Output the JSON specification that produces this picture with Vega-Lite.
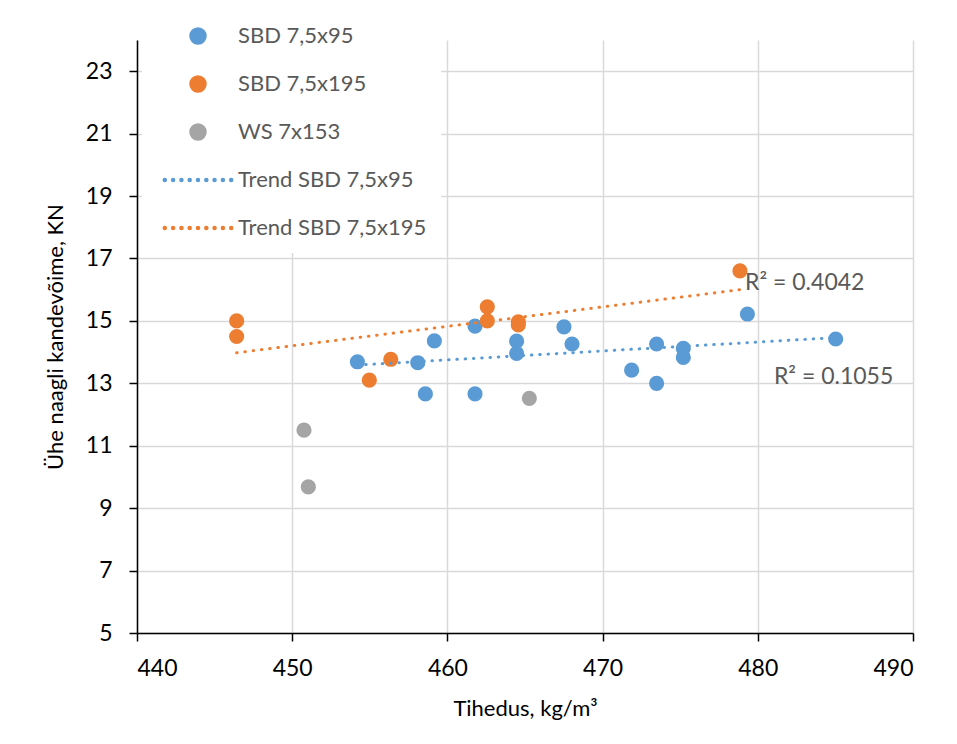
{
  "$schema": "https://vega.github.io/schema/vega-lite/v6.json",
  "width": 776,
  "height": 593,
  "autosize": {"type": "none"},
  "padding": {"left": 137, "top": 40, "right": 44, "bottom": 111},
  "background": "white",
  "config": {
    "view": {"stroke": null},
    "font": "Lato",
    "axis": {
      "labelFont": "Lato",
      "labelFontSize": 23,
      "labelColor": "#000000",
      "titleFont": "Lato",
      "titleFontSize": 22,
      "titleFontWeight": "normal",
      "titleColor": "#000000",
      "domainColor": "#000000",
      "domainWidth": 1.5,
      "tickColor": "#000000",
      "tickWidth": 1.5,
      "tickSize": 8,
      "gridColor": "#d9d9d9",
      "gridWidth": 1.5
    },
    "legend": {
      "labelFont": "Lato",
      "labelFontSize": 22,
      "labelColor": "#595959",
      "labelLimit": 400
    }
  },
  "data": {
    "values": [
      {"tihedus": 454.2, "kandevoime": 13.69, "series": "SBD 7,5x95", "trend": "Trend SBD 7,5x95"},
      {"tihedus": 458.09, "kandevoime": 13.66, "series": "SBD 7,5x95", "trend": "Trend SBD 7,5x95"},
      {"tihedus": 458.58, "kandevoime": 12.66, "series": "SBD 7,5x95", "trend": "Trend SBD 7,5x95"},
      {"tihedus": 459.16, "kandevoime": 14.36, "series": "SBD 7,5x95", "trend": "Trend SBD 7,5x95"},
      {"tihedus": 461.78, "kandevoime": 14.83, "series": "SBD 7,5x95", "trend": "Trend SBD 7,5x95"},
      {"tihedus": 461.78, "kandevoime": 12.66, "series": "SBD 7,5x95", "trend": "Trend SBD 7,5x95"},
      {"tihedus": 464.46, "kandevoime": 14.35, "series": "SBD 7,5x95", "trend": "Trend SBD 7,5x95"},
      {"tihedus": 464.46, "kandevoime": 13.96, "series": "SBD 7,5x95", "trend": "Trend SBD 7,5x95"},
      {"tihedus": 467.51, "kandevoime": 14.81, "series": "SBD 7,5x95", "trend": "Trend SBD 7,5x95"},
      {"tihedus": 468.03, "kandevoime": 14.26, "series": "SBD 7,5x95", "trend": "Trend SBD 7,5x95"},
      {"tihedus": 471.87, "kandevoime": 13.42, "series": "SBD 7,5x95", "trend": "Trend SBD 7,5x95"},
      {"tihedus": 473.48, "kandevoime": 14.26, "series": "SBD 7,5x95", "trend": "Trend SBD 7,5x95"},
      {"tihedus": 473.48, "kandevoime": 13.0, "series": "SBD 7,5x95", "trend": "Trend SBD 7,5x95"},
      {"tihedus": 475.2, "kandevoime": 14.12, "series": "SBD 7,5x95", "trend": "Trend SBD 7,5x95"},
      {"tihedus": 475.2, "kandevoime": 13.83, "series": "SBD 7,5x95", "trend": "Trend SBD 7,5x95"},
      {"tihedus": 479.33, "kandevoime": 15.22, "series": "SBD 7,5x95", "trend": "Trend SBD 7,5x95"},
      {"tihedus": 485.02, "kandevoime": 14.42, "series": "SBD 7,5x95", "trend": "Trend SBD 7,5x95"},
      {"tihedus": 446.42, "kandevoime": 15.0, "series": "SBD 7,5x195", "trend": "Trend SBD 7,5x195"},
      {"tihedus": 446.42, "kandevoime": 14.5, "series": "SBD 7,5x195", "trend": "Trend SBD 7,5x195"},
      {"tihedus": 454.97, "kandevoime": 13.1, "series": "SBD 7,5x195", "trend": "Trend SBD 7,5x195"},
      {"tihedus": 456.35, "kandevoime": 13.77, "series": "SBD 7,5x195", "trend": "Trend SBD 7,5x195"},
      {"tihedus": 462.57, "kandevoime": 15.45, "series": "SBD 7,5x195", "trend": "Trend SBD 7,5x195"},
      {"tihedus": 462.57, "kandevoime": 15.0, "series": "SBD 7,5x195", "trend": "Trend SBD 7,5x195"},
      {"tihedus": 464.57, "kandevoime": 14.97, "series": "SBD 7,5x195", "trend": "Trend SBD 7,5x195"},
      {"tihedus": 464.57, "kandevoime": 14.87, "series": "SBD 7,5x195", "trend": "Trend SBD 7,5x195"},
      {"tihedus": 478.85, "kandevoime": 16.6, "series": "SBD 7,5x195", "trend": "Trend SBD 7,5x195"},
      {"tihedus": 450.76, "kandevoime": 11.5, "series": "WS 7x153", "trend": null},
      {"tihedus": 451.04, "kandevoime": 9.68, "series": "WS 7x153", "trend": null},
      {"tihedus": 465.28, "kandevoime": 12.52, "series": "WS 7x153", "trend": null}
    ]
  },
  "encoding": {
    "x": {
      "field": "tihedus",
      "type": "quantitative",
      "title": "Tihedus, kg/m³",
      "scale": {"domain": [440, 490], "nice": false, "zero": false},
      "axis": {"values": [440, 450, 460, 470, 480, 490], "labelPadding": 16, "titlePadding": 18}
    },
    "y": {
      "field": "kandevoime",
      "type": "quantitative",
      "title": "Ühe naagli kandevõime, KN",
      "scale": {"domain": [5, 24], "nice": false, "zero": false},
      "axis": {"values": [5, 7, 9, 11, 13, 15, 17, 19, 21, 23], "labelPadding": 17, "titlePadding": 18}
    }
  },
  "layer": [
    {
      "mark": {"type": "point", "filled": true, "size": 230, "opacity": 1},
      "encoding": {
        "color": {
          "field": "series",
          "type": "nominal",
          "scale": {
            "domain": ["SBD 7,5x95", "SBD 7,5x195", "WS 7x153", "Trend SBD 7,5x95", "Trend SBD 7,5x195"],
            "range": ["#5B9BD5", "#ED7D31", "#A5A5A5", "#5B9BD5", "#ED7D31"]
          },
          "legend": {
            "title": null,
            "orient": "none",
            "legendX": 5,
            "legendY": -29,
            "padding": 14,
            "fillColor": "white",
            "symbolSize": 256,
            "symbolOffset": 31,
            "labelOffset": 29,
            "labelBaseline": "middle",
            "rowPadding": 26
          }
        },
        "shape": {
          "field": "series",
          "type": "nominal",
          "scale": {
            "domain": ["SBD 7,5x95", "SBD 7,5x195", "WS 7x153", "Trend SBD 7,5x95", "Trend SBD 7,5x195"],
            "range": [
              "circle",
              "circle",
              "circle",
              "M-4.34,0a0.19,0.19,0,1,0,0.38,0a0.19,0.19,0,1,0,-0.38,0M-3.3,0a0.19,0.19,0,1,0,0.38,0a0.19,0.19,0,1,0,-0.38,0M-2.26,0a0.19,0.19,0,1,0,0.38,0a0.19,0.19,0,1,0,-0.38,0M-1.23,0a0.19,0.19,0,1,0,0.38,0a0.19,0.19,0,1,0,-0.38,0M-0.19,0a0.19,0.19,0,1,0,0.38,0a0.19,0.19,0,1,0,-0.38,0M0.85,0a0.19,0.19,0,1,0,0.38,0a0.19,0.19,0,1,0,-0.38,0M1.88,0a0.19,0.19,0,1,0,0.38,0a0.19,0.19,0,1,0,-0.38,0M2.92,0a0.19,0.19,0,1,0,0.38,0a0.19,0.19,0,1,0,-0.38,0M3.96,0a0.19,0.19,0,1,0,0.38,0a0.19,0.19,0,1,0,-0.38,0",
              "M-4.34,0a0.19,0.19,0,1,0,0.38,0a0.19,0.19,0,1,0,-0.38,0M-3.3,0a0.19,0.19,0,1,0,0.38,0a0.19,0.19,0,1,0,-0.38,0M-2.26,0a0.19,0.19,0,1,0,0.38,0a0.19,0.19,0,1,0,-0.38,0M-1.23,0a0.19,0.19,0,1,0,0.38,0a0.19,0.19,0,1,0,-0.38,0M-0.19,0a0.19,0.19,0,1,0,0.38,0a0.19,0.19,0,1,0,-0.38,0M0.85,0a0.19,0.19,0,1,0,0.38,0a0.19,0.19,0,1,0,-0.38,0M1.88,0a0.19,0.19,0,1,0,0.38,0a0.19,0.19,0,1,0,-0.38,0M2.92,0a0.19,0.19,0,1,0,0.38,0a0.19,0.19,0,1,0,-0.38,0M3.96,0a0.19,0.19,0,1,0,0.38,0a0.19,0.19,0,1,0,-0.38,0"
            ]
          },
          "legend": {
            "title": null,
            "orient": "none",
            "legendX": 5,
            "legendY": -29,
            "padding": 14,
            "fillColor": "white",
            "symbolSize": 256,
            "symbolOffset": 31,
            "labelOffset": 29,
            "labelBaseline": "middle",
            "rowPadding": 26
          }
        }
      }
    },
    {
      "transform": [
        {"filter": "datum.trend != null"},
        {"regression": "kandevoime", "on": "tihedus", "groupby": ["trend"], "method": "linear"}
      ],
      "mark": {"type": "line", "strokeWidth": 3, "strokeDash": [0.5, 7.8], "strokeCap": "round"},
      "encoding": {
        "color": {"field": "trend", "type": "nominal", "legend": null}
      }
    },
    {
      "data": {
        "values": [
          {"tihedus": 479.18, "kandevoime": 15.99, "tekst": "R² = 0.4042"},
          {"tihedus": 481.04, "kandevoime": 12.98, "tekst": "R² = 0.1055"}
        ]
      },
      "mark": {"type": "text", "align": "left", "baseline": "alphabetic", "font": "Lato", "fontSize": 23, "color": "#595959"},
      "encoding": {
        "text": {"field": "tekst"}
      }
    }
  ]
}
